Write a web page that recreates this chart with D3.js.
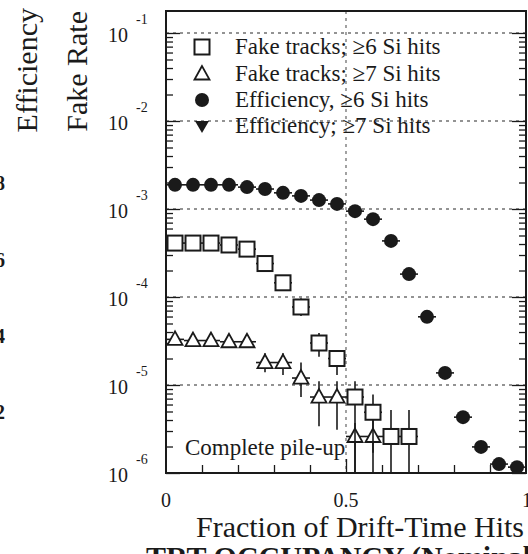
<!DOCTYPE html>
<html><head><meta charset="utf-8">
<script src="https://cdn.jsdelivr.net/npm/d3@7"></script>
<style>
body{margin:0;background:#fff}
svg{display:block}
text{font-family:"Liberation Serif","Times New Roman",serif;fill:#1a1a1a}
</style>
</head><body>
<svg id="c" width="528" height="554"></svg>
<script>
// ---------- data ----------
const binCenters = [0.025,0.075,0.125,0.175,0.225,0.275,0.325,0.375,0.425,0.475,0.525,0.575,0.625,0.675,0.725,0.775,0.825,0.875,0.925,0.975];
const effSi6 = [0.796,0.796,0.796,0.796,0.790,0.785,0.775,0.767,0.756,0.746,0.727,0.706,0.649,0.562,0.450,0.303,0.187,0.109,0.064,0.056];
const fakeSi6   = [4.1e-4,4.1e-4,4.1e-4,3.9e-4,3.5e-4,2.4e-4,1.45e-4,7.7e-5,3.0e-5,2.0e-5,7.3e-6,4.9e-6,2.6e-6,2.6e-6];
const fakeSi6Lo = [3.9e-4,3.9e-4,3.9e-4,3.7e-4,3.3e-4,2.0e-4,1.2e-4,6.1e-5,2.1e-5,1.3e-5,1e-7,1.7e-6,1e-7,1e-7];
const fakeSi6Hi = [4.3e-4,4.3e-4,4.3e-4,4.1e-4,3.7e-4,2.8e-4,1.7e-4,9.7e-5,3.9e-5,2.5e-5,1.1e-5,7.8e-6,5.2e-6,5.2e-6];
const fakeSi7   = [3.3e-5,3.2e-5,3.2e-5,3.1e-5,3.1e-5,1.8e-5,1.8e-5,1.2e-5,7.3e-6,7.3e-6,2.6e-6,2.6e-6];
const fakeSi7Lo = [2.9e-5,2.9e-5,2.9e-5,2.8e-5,2.8e-5,1.4e-5,1.3e-5,7.3e-6,3.4e-6,3.1e-6,1e-7,1e-7];
const fakeSi7Hi = [3.6e-5,3.6e-5,3.6e-5,3.5e-5,3.5e-5,2.3e-5,2.3e-5,1.8e-5,1.1e-5,1.1e-5,3.7e-6,4.0e-6];
const binHalfWidth = 0.025;
const yDecadeExps = [-1,-2,-3,-4,-5,-6];
const xTickLabels = ["0","0.5","1"];
const xTickValues = [0,0.5,1];
const xMinorTicks = [0.1,0.2,0.3,0.4,0.6,0.7,0.8,0.9];
const effTickValues = [0.8,0.6,0.4,0.2];
const legendLabels = ["Fake tracks; \u22656 Si hits","Fake tracks; \u22657 Si hits","Efficiency, \u22656 Si hits","Efficiency; \u22657 Si hits"];
const legendMarkers = ["square","triangle","circle","invtriangle"];
const xTitle = "Fraction of Drift-Time Hits";
const yTitles = ["Efficiency","Fake Rate"];
const annotation = "Complete pile-up";
const cutCaption = "TRT OCCUPANCY (Nominal luminosity)";

// ---------- layout ----------
const svg = d3.select("#c");
const L=166, R=526, T=11, B=473;
const ink = "#1a1a1a";
const x = d3.scaleLinear().domain([0,1]).range([L,R]);
const y = d3.scaleLog().domain([1e-6, Math.pow(10,-0.75)]).range([B,T]);
const yEff = d3.scaleLinear().domain([0,1]).range([488.5,107]);

svg.append("defs").append("clipPath").attr("id","plot")
  .append("rect").attr("x",L).attr("y",T).attr("width",R-L).attr("height",B-T);

// grid
const decades = yDecadeExps.map(e=>Math.pow(10,e));
const grid = svg.append("g").attr("stroke","#707070").attr("stroke-width",1.3).attr("stroke-dasharray","3,4");
grid.selectAll("line.h").data(decades.filter(d=>d>1.5e-6)).join("line")
  .attr("x1",L).attr("x2",R).attr("y1",d=>y(d)).attr("y2",d=>y(d));
grid.append("line").attr("x1",x(0.5)).attr("x2",x(0.5)).attr("y1",T).attr("y2",B);

// axis ticks
const minor = [];
for (const e of [-6,-5,-4,-3,-2,-1]) for (let m=2;m<=9;m++){const v=m*Math.pow(10,e); if(v<=y.domain()[1]) minor.push(v);}
function styleAxis(g){g.select(".domain").remove(); g.selectAll(".tick line").attr("stroke",ink).attr("stroke-width",1.3);}
svg.append("g").attr("transform",`translate(${L},0)`).call(d3.axisRight(y).tickValues(minor).tickSize(7).tickFormat("")).call(styleAxis);
svg.append("g").attr("transform",`translate(${L},0)`).call(d3.axisRight(y).tickValues(decades).tickSize(14).tickFormat("")).call(styleAxis);
svg.append("g").attr("transform",`translate(${R},0)`).call(d3.axisLeft(y).tickValues(minor).tickSize(7).tickFormat("")).call(styleAxis);
svg.append("g").attr("transform",`translate(${R},0)`).call(d3.axisLeft(y).tickValues(decades).tickSize(14).tickFormat("")).call(styleAxis);
svg.append("g").attr("transform",`translate(0,${B})`).call(d3.axisTop(x).tickValues(xMinorTicks).tickSize(8).tickFormat("")).call(styleAxis);
svg.append("g").attr("transform",`translate(0,${B})`).call(d3.axisTop(x).tickValues([0.5]).tickSize(14).tickFormat("")).call(styleAxis);

// frame
svg.append("rect").attr("x",L).attr("y",T).attr("width",R-L).attr("height",B-T)
  .attr("fill","none").attr("stroke",ink).attr("stroke-width",2);

// y tick labels (10^n)
const yl = svg.append("g");
yDecadeExps.forEach(e=>{
  const yy = y(Math.pow(10,e));
  yl.append("text").attr("x",128).attr("y",yy+9).attr("text-anchor","end").attr("font-size",20).text("10");
  yl.append("text").attr("x",136).attr("y",yy-9).attr("font-size",14).text("-"+(-e));
});
// x tick labels
svg.append("g").selectAll("text").data(xTickValues).join("text")
  .attr("x",d=>x(d)+(d===1?1:0)).attr("y",507).attr("text-anchor","middle").attr("font-size",20)
  .text((d,i)=>xTickLabels[i]);
// efficiency axis labels (cut off at left edge)
svg.append("g").selectAll("text").data(effTickValues).join("text")
  .attr("x",5).attr("y",d=>yEff(d)+7).attr("text-anchor","end").attr("font-size",20).attr("font-weight","bold")
  .text(d=>d.toFixed(1));

// titles
svg.append("text").attr("x",524).attr("y",537).attr("text-anchor","end").attr("font-size",30).text(xTitle);
svg.append("text").attr("transform","translate(37,8) rotate(-90)").attr("text-anchor","end").attr("font-size",30).text(yTitles[0]);
svg.append("text").attr("transform","translate(87,11) rotate(-90)").attr("text-anchor","end").attr("font-size",30).text(yTitles[1]);
svg.append("text").attr("x",146).attr("y",567).attr("font-size",30).attr("font-weight","bold").text(cutCaption);

// markers
function marker(g,type,cx,cy){
  if(type==="square") g.append("rect").attr("x",cx-7.5).attr("y",cy-7.5).attr("width",15).attr("height",15).attr("fill","#fff").attr("stroke",ink).attr("stroke-width",2);
  else if(type==="triangle") g.append("path").attr("d",`M${cx},${cy-8}L${cx-7.5},${cy+5.5}L${cx+7.5},${cy+5.5}Z`).attr("fill","#fff").attr("stroke",ink).attr("stroke-width",1.8);
  else if(type==="circle") g.append("circle").attr("cx",cx).attr("cy",cy).attr("r",7).attr("fill",ink);
  else g.append("path").attr("d",`M${cx},${cy+7}L${cx-7},${cy-5}L${cx+7},${cy-5}Z`).attr("fill",ink);
}

const plot = svg.append("g").attr("clip-path","url(#plot)");
function drawSeries(vals,lo,hi,type,ys){
  const g = plot.append("g");
  vals.forEach((v,i)=>{
    const cx = x(binCenters[i]), cy = ys(v);
    g.append("line").attr("x1",x(binCenters[i]-binHalfWidth)).attr("x2",x(binCenters[i]+binHalfWidth))
      .attr("y1",cy).attr("y2",cy).attr("stroke",ink).attr("stroke-width",1.6);
    if(lo) g.append("line").attr("x1",cx).attr("x2",cx).attr("y1",ys(lo[i])).attr("y2",ys(hi[i])).attr("stroke",ink).attr("stroke-width",1.6);
  });
  vals.forEach((v,i)=>marker(g,type,x(binCenters[i]),ys(v)));
}
drawSeries(fakeSi7,fakeSi7Lo,fakeSi7Hi,"triangle",y);
drawSeries(fakeSi6,fakeSi6Lo,fakeSi6Hi,"square",y);
drawSeries(effSi6,null,null,"circle",yEff);

// annotation
svg.append("text").attr("x",185).attr("y",455).attr("font-size",23).text(annotation);

// legend
const leg = svg.append("g");
const legRowsY = [47,74,100,126];
legendLabels.forEach((t,i)=>{
  marker(leg,legendMarkers[i],202,legRowsY[i]);
  leg.append("text").attr("x",235).attr("y",legRowsY[i]+7).attr("font-size",23).text(t);
});
</script>
</body></html>
